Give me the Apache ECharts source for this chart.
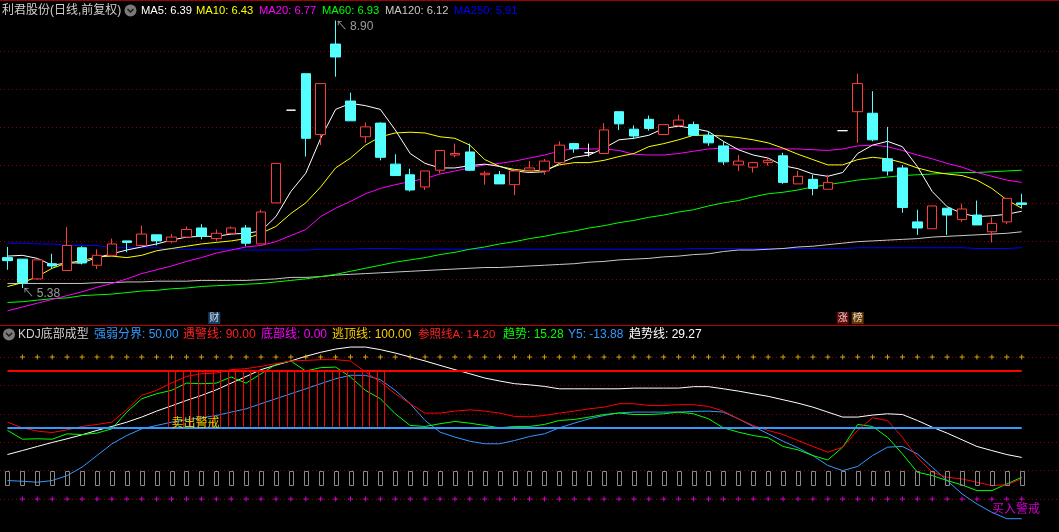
<!DOCTYPE html>
<html><head><meta charset="utf-8">
<script src="https://cdn.jsdelivr.net/npm/echarts@6/dist/echarts.min.js"></script>
<style>html,body{margin:0;padding:0;background:#000;}#c{width:1059px;height:532px;}</style>
</head><body><div id="c"></div>
<script>
// ---------- data ----------
const days = Array.from({length: 69}, (_, i) => 'D' + (i + 1));
const open  = [5.78,5.76,5.50,5.70,5.61,5.91,5.68,5.81,6.00,5.94, 6.08,5.99,6.05,6.17,6.03,6.10,6.17,5.96,6.50,7.72, 8.20,7.40,8.59,7.84,7.37,7.55,7.01,6.87,6.71,6.93, 7.13,7.17,6.87,6.87,6.74,6.93,6.92,7.03,7.28,7.16, 7.15,7.70,7.47,7.60,7.40,7.52,7.53,7.39,7.25,7.00, 6.97,7.03,7.12,6.75,6.81,6.68,7.45,7.70,7.68,7.08, 6.96,6.25,6.16,6.43,6.28,6.34,6.12,6.25,6.50];
const close = [5.74,5.45,5.75,5.67,5.94,5.71,5.81,5.96,5.98,6.09, 6.00,6.05,6.15,6.06,6.10,6.17,5.97,6.38,7.02,7.72, 7.35,8.07,8.42,7.58,7.50,7.10,6.86,6.67,6.92,7.19, 7.15,6.93,6.89,6.75,6.92,6.96,7.05,7.26,7.21,7.16, 7.46,7.54,7.38,7.48,7.53,7.59,7.39,7.29,7.04,7.05, 7.03,7.06,6.77,6.85,6.69,6.77,7.45,8.07,7.33,6.92, 6.44,6.17,6.46,6.34,6.42,6.21,6.23,6.56,6.48];
const low   = [5.62,5.38,5.49,5.63,5.61,5.69,5.63,5.81,5.85,5.93, 5.94,5.97,6.05,6.02,6.00,6.10,5.93,5.96,6.50,7.72, 7.11,7.26,8.16,7.58,7.29,7.06,6.86,6.65,6.67,6.89, 7.10,6.92,6.74,6.75,6.60,6.92,6.87,7.03,7.16,7.11, 7.14,7.46,7.34,7.45,7.40,7.52,7.39,7.25,7.00,6.92, 6.90,6.99,6.75,6.75,6.60,6.68,7.45,7.29,7.31,6.86, 6.37,6.08,6.16,6.08,6.25,6.21,5.98,6.22,6.43];
const high  = [5.92,5.76,5.75,5.83,6.18,5.93,5.89,6.03,6.00,6.20, 6.08,6.09,6.19,6.22,6.15,6.19,6.21,6.41,7.02,7.72, 8.20,8.07,8.90,7.95,7.56,7.56,7.14,6.95,6.92,7.19, 7.28,7.28,6.92,6.92,6.92,7.05,7.08,7.31,7.29,7.28, 7.55,7.70,7.52,7.65,7.53,7.66,7.57,7.44,7.31,7.13, 7.04,7.10,7.16,6.92,6.87,6.87,7.45,8.20,7.97,7.50, 7.00,6.41,6.46,6.43,6.49,6.53,6.31,6.56,6.62];
const ma5   = [5.80,5.81,5.77,5.68,5.71,5.71,5.78,5.83,5.88,5.92, 5.96,6.01,6.05,6.06,6.06,6.09,6.10,6.13,6.32,6.65, 6.89,7.35,7.73,7.81,7.78,7.73,7.46,7.15,7.02,6.96, 6.96,6.99,7.01,6.98,6.92,6.90,6.91,7.02,7.10,7.13, 7.22,7.33,7.35,7.39,7.48,7.51,7.48,7.44,7.31,7.20, 7.13,7.09,6.99,6.95,6.88,6.85,6.90,7.15,7.26,7.31, 7.24,6.98,6.65,6.45,6.36,6.32,6.33,6.35,6.39];
const ma10  = [5.40,5.45,5.53,5.64,5.71,5.74,5.79,5.80,5.78,5.81, 5.87,5.90,5.93,5.96,5.98,6.00,6.03,6.10,6.19,6.36, 6.50,6.71,6.96,7.09,7.26,7.37,7.42,7.43,7.42,7.37, 7.35,7.26,7.07,6.98,6.94,6.92,6.93,7.00,7.03,7.03, 7.06,7.11,7.15,7.24,7.28,7.33,7.39,7.39,7.38,7.36, 7.33,7.29,7.22,7.14,7.07,7.00,7.00,7.07,7.10,7.08, 7.03,6.96,6.91,6.88,6.86,6.80,6.69,6.54,6.43];
const ma20  = [5.08,5.13,5.18,5.23,5.28,5.33,5.39,5.44,5.50,5.57, 5.62,5.67,5.73,5.78,5.84,5.88,5.92,5.94,5.99,6.07, 6.15,6.32,6.43,6.52,6.62,6.69,6.74,6.78,6.82,6.88, 6.92,6.96,7.00,7.02,7.05,7.09,7.13,7.18,7.22,7.21, 7.21,7.19,7.14,7.13,7.13,7.15,7.18,7.21,7.22,7.21, 7.21,7.21,7.21,7.21,7.20,7.19,7.21,7.25,7.26,7.24, 7.19,7.13,7.08,7.02,6.97,6.90,6.85,6.80,6.77];
const ma60  = [5.19,5.20,5.22,5.24,5.25,5.28,5.29,5.30,5.32,5.34, 5.35,5.37,5.38,5.40,5.41,5.42,5.43,5.44,5.46,5.48, 5.50,5.53,5.56,5.60,5.64,5.68,5.72,5.75,5.78,5.82, 5.85,5.89,5.92,5.96,5.99,6.03,6.06,6.10,6.13,6.17, 6.20,6.24,6.27,6.31,6.34,6.38,6.41,6.46,6.50,6.53, 6.58,6.62,6.64,6.67,6.71,6.74,6.77,6.80,6.82,6.84, 6.86,6.87,6.88,6.89,6.90,6.90,6.91,6.92,6.93];
const ma120 = [5.44,5.44,5.44,5.44,5.44,5.44,5.45,5.45,5.46,5.46, 5.47,5.47,5.47,5.48,5.48,5.48,5.48,5.49,5.50,5.52, 5.52,5.53,5.55,5.56,5.57,5.58,5.59,5.60,5.61,5.62, 5.63,5.64,5.65,5.65,5.66,5.67,5.68,5.69,5.70,5.72, 5.73,5.75,5.76,5.77,5.79,5.80,5.82,5.83,5.86,5.88, 5.88,5.89,5.90,5.92,5.93,5.95,5.97,5.99,6.00,6.01, 6.02,6.03,6.05,6.06,6.07,6.08,6.09,6.10,6.12];
const ma250 = [5.97,5.97,5.96,5.96,5.94,5.94,5.94,5.91,5.91,5.91, 5.91,5.89,5.89,5.89,5.89,5.89,5.88,5.88,5.88,5.88, 5.88,5.89,5.89,5.89,5.90,5.90,5.90,5.89,5.89,5.89, 5.89,5.89,5.89,5.89,5.89,5.89,5.89,5.89,5.89,5.89, 5.89,5.89,5.89,5.89,5.89,5.89,5.90,5.90,5.90,5.90, 5.90,5.90,5.90,5.90,5.90,5.90,5.90,5.91,5.91,5.91, 5.91,5.91,5.91,5.91,5.91,5.90,5.90,5.90,5.91];
// KDJ底部成型 panel
const trendLine = [31.3,34.1,37.0,39.8,42.4,45.2,48.3,51.1,54.1,57.7, 61.9,65.6,69.4,72.9,76.9,81.6,86.3,91.1,94.3,97.2, 100.5,103.3,105.6,107.0,107.0,105.2,102.8,100.0,97.2,94.1, 91.1,88.2,85.2,83.1,81.2,80.4,79.3,77.6,77.6,77.6, 77.6,77.6,78.1,78.1,78.1,78.1,79.1,79.1,77.6,76.0, 74.1,72.3,69.9,67.5,64.7,61.2,57.7,57.7,59.1,60.0, 59.5,55.3,50.6,46.4,41.7,37.0,34.1,31.3,29.27];
const refLineA  = [54.1,50.1,47.8,46.8,48.7,51.1,52.5,54.1,62.9,73.0, 76.5,81.7,86.3,88.2,88.7,91.1,91.8,93.4,95.3,97.2, 97.6,98.1,98.1,97.2,89.4,82.4,74.1,67.1,60.5,60.5, 61.9,62.8,61.9,60.5,58.1,57.9,58.8,60.5,61.9,63.5, 64.7,67.1,67.1,65.9,65.9,66.4,66.4,65.2,61.9,56.5, 51.8,48.3,45.4,41.2,37.0,33.0,36.5,48.3,57.2,55.3, 43.5,29.4,18.9,15.3,14.1,11.8,9.4,10.1,14.2];
const trend     = [48.3,42.1,42.4,42.1,45.9,45.4,46.4,49.4,61.2,70.6, 74.1,76.5,81.6,81.2,81.6,85.9,81.6,88.2,94.8,97.2, 90.1,92.5,92.9,85.9,76.5,70.6,60.0,51.8,51.1,53.0, 54.6,53.4,51.8,50.1,51.1,51.1,52.5,55.3,56.0,57.7, 59.5,60.5,59.5,59.5,60.0,61.2,60.0,56.5,50.1,47.1, 44.7,43.1,37.0,34.6,30.6,27.5,36.5,52.5,51.1,43.5, 31.8,18.9,16.5,13.0,9.9,5.9,5.9,10.6,15.28];
const y5        = [13.0,12.5,11.8,13.0,16.5,22.4,30.6,38.8,44.7,49.4, 51.8,54.1,55.8,57.2,58.8,61.2,63.5,67.1,70.6,74.1, 77.6,81.2,84.7,87.1,87.1,84.0,76.5,67.1,55.3,47.1, 43.6,40.7,38.9,38.9,41.2,44.0,45.9,50.1,53.4,56.5, 58.8,60.7,61.2,61.2,61.2,61.2,61.7,61.9,61.2,56.5, 51.1,45.9,40.7,36.0,30.6,23.6,20.0,22.9,30.6,36.5, 37.0,31.8,22.4,13.0,3.6,-3.5,-9.4,-13.88,-13.88];
const sellWarn  = [0,0,0,0,0,0,0,0,0,0, 0,1,1,1,1,1,1,1,1,1, 1,1,1,1,1,1,0,0,0,0, 0,0,0,0,0,0,0,0,0,0, 0,0,0,0,0,0,0,0,0,0, 0,0,0,0,0,0,0,0,0,0, 0,0,0,0,0,0,0,0,0];
const strongWeak = 50, alertLine = 90, bottomLine = 0, escapeLine = 100;
const boxLow = 10, boxHigh = 20;
const hiLabel = {idx: 22, value: 8.90}, loLabel = {idx: 1, value: 5.38};
const sellText = {idx: 11, value: 53.3}, buyText = {idx: 66, value: -7.8};
const tags = [{idx: 14, text: '财', bg: '#1d4f80', dx: -2}, {idx: 56, text: '涨', bg: '#7d0a0a', dx: 0}, {idx: 57, text: '榜', bg: '#7d4300', dx: 0}];

// ---------- build ----------
const FONT = '"Liberation Sans","Noto Sans CJK SC",sans-serif';
const N = days.length;
const slots = days.concat(['', ' ']);
const candleData = days.map((d, i) => {
  const item = {value: [open[i], close[i], low[i], high[i]]};
  if (open[i] === close[i]) item.itemStyle = {color: '#ffffff', borderColor: '#ffffff', color0: '#ffffff', borderColor0: '#ffffff'};
  return item;
});
function ln(name, data, color, xi, extra) {
  return Object.assign({name, type: 'line', xAxisIndex: xi, yAxisIndex: xi, data, symbol: 'none', silent: true,
    lineStyle: {width: 1, color}, itemStyle: {color}, z: 3}, extra || {});
}
function boxSeries(data, color, widthPx) {
  return {type: 'custom', xAxisIndex: 1, yAxisIndex: 1, silent: true, z: 4,
    encode: {x: 0, y: [1, 2]}, data,
    renderItem: function (params, api) {
      const i = api.value(0);
      const t = api.coord([i, api.value(2)]);
      const b = api.coord([i, api.value(1)]);
      const x0 = Math.round(t[0] - widthPx / 2) + 0.5;
      return {type: 'rect', shape: {x: x0, y: Math.round(t[1]) + 0.5, width: widthPx, height: Math.round(b[1] - t[1])},
        style: {fill: 'none', stroke: color, lineWidth: 1}};
    }};
}
const grayBoxes = days.map((d, i) => [i, boxLow, boxHigh]);
const redBoxes = [];
sellWarn.forEach((f, i) => { if (f) redBoxes.push([i, strongWeak, alertLine]); });
const plus = 'path://M2,0H3V2H5V3H3V5H2V3H0V2H2Z';

function txt(x, y, s, color, size) {
  return {type: 'text', x, y, silent: true, z: 10,
    style: {text: s, fill: color, font: (size || 12) + 'px ' + FONT, verticalAlign: 'middle'}};
}
function icon(cx, cy) {
  return {type: 'group', silent: true, z: 10, children: [
    {type: 'circle', shape: {cx, cy, r: 6}, style: {fill: '#7a7a7a'}},
    {type: 'polyline', shape: {points: [[cx - 3, cy - 1.5], [cx, cy + 1.5], [cx + 3, cy - 1.5]]}, style: {stroke: '#1a1a1a', lineWidth: 1.5, fill: null}}
  ]};
}
const gridLine = {show: true, showMinLine: false, showMaxLine: false, lineStyle: {color: '#8f0000', type: [1, 3], width: 1}};
const HS = 11.2;

const option = {
  backgroundColor: '#000000',
  animation: false,
  grid: [
    {left: -1.2, top: 12.9, width: 1065, height: 304},
    {left: -1.2, top: 328.6, width: 1065, height: 198.8}
  ],
  xAxis: [
    {type: 'category', gridIndex: 0, data: slots, show: false},
    {type: 'category', gridIndex: 1, data: slots, show: false}
  ],
  yAxis: [
    {type: 'value', gridIndex: 0, min: 5, max: 9, interval: 0.5, axisLabel: {show: false}, axisLine: {show: false}, axisTick: {show: false}, splitLine: gridLine},
    {type: 'value', gridIndex: 1, min: -20, max: 120, interval: 20, axisLabel: {show: false}, axisLine: {show: false}, axisTick: {show: false}, splitLine: gridLine}
  ],
  series: [
    ln('MA250', ma250, '#0000ff', 0),
    ln('MA120', ma120, '#c8c8c8', 0),
    ln('MA60', ma60, '#00ff00', 0),
    ln('MA20', ma20, '#ff00ff', 0),
    ln('MA10', ma10, '#ffff00', 0),
    ln('MA5', ma5, '#ffffff', 0),
    {type: 'candlestick', xAxisIndex: 0, yAxisIndex: 0, data: candleData, barWidth: 10, silent: true, z: 5,
      itemStyle: {color: '#000000', color0: '#54ffff', borderColor: '#ff3c3c', borderColor0: '#54ffff', borderWidth: 1}},
    {type: 'scatter', xAxisIndex: 0, yAxisIndex: 0, symbolSize: 0, silent: true, clip: false, z: 6,
      data: [
        {value: [hiLabel.idx, hiLabel.value], label: {formatter: '↖\u2009' + hiLabel.value.toFixed(2)}},
        {value: [loLabel.idx, loLabel.value], label: {formatter: '↖\u2009' + loLabel.value.toFixed(2)}}
      ],
      label: {show: true, position: [0, 0], align: 'left', verticalAlign: 'top', color: '#c0c0c0', fontSize: 12, fontFamily: FONT}},
    {type: 'scatter', xAxisIndex: 0, yAxisIndex: 0, symbolSize: 0, silent: true, clip: false, z: 6,
      data: tags.map(t => ({value: [t.idx, 4.985], label: {formatter: t.text, backgroundColor: t.bg, offset: [t.dx, 0]}})),
      label: {show: true, position: 'inside', color: '#ffffff', fontSize: 10, lineHeight: 11, padding: [1, 1, 0, 1], fontFamily: FONT}},
    // bottom panel
    boxSeries(grayBoxes, '#8a8a8a', 4),
    ln('趋势线', trendLine, '#ffffff', 1, {
      markLine: {silent: true, symbol: 'none', label: {show: false}, animation: false,
        data: [
          [{coord: [days[0], alertLine], lineStyle: {color: '#ff0000', width: 2, type: 'solid'}}, {coord: [days[N - 1], alertLine]}],
          [{coord: [days[0], strongWeak], lineStyle: {color: '#3399ff', width: 2, type: 'solid'}}, {coord: [days[N - 1], strongWeak]}]
        ]}}),
    ln('Y5', y5, '#3399ff', 1),
    ln('趋势', trend, '#00ff00', 1),
    ln('参照线A', refLineA, '#ff0000', 1),
    boxSeries(redBoxes, '#ff0000', 7),
    {type: 'scatter', xAxisIndex: 1, yAxisIndex: 1, symbol: plus, symbolSize: 5, silent: true, z: 5,
      itemStyle: {color: '#ffcc00'}, data: days.map((d, i) => i === 0 ? null : [i, escapeLine]).filter(Boolean)},
    {type: 'scatter', xAxisIndex: 1, yAxisIndex: 1, symbol: plus, symbolSize: 5, silent: true, z: 5,
      itemStyle: {color: '#ff00ff'}, data: days.map((d, i) => i === 0 ? null : [i, bottomLine]).filter(Boolean)},
    {type: 'scatter', xAxisIndex: 1, yAxisIndex: 1, symbolSize: 0, silent: true, clip: false, z: 7,
      data: [
        {value: [sellText.idx, sellText.value], label: {formatter: '卖出警戒', color: '#ffff00'}},
        {value: [buyText.idx, buyText.value], label: {formatter: '买入警戒', color: '#ff00ff'}}
      ],
      label: {show: true, position: 'right', distance: 0, fontSize: 12, fontFamily: FONT}}
  ],
  graphic: [
    {type: 'rect', shape: {x: 0, y: 0, width: 1059, height: 1}, style: {fill: '#a00000'}, silent: true},
    {type: 'rect', shape: {x: 0, y: 325, width: 1059, height: 1}, style: {fill: '#c00000'}, silent: true},
    txt(2, 10.5, '利君股份(日线,前复权)', '#d0d0d0'),
    icon(130.5, 10.5),
    txt(141, 10.5, 'MA5: ' + ma5[N - 1].toFixed(2), '#ffffff', HS),
    txt(196, 10.5, 'MA10: ' + ma10[N - 1].toFixed(2), '#ffff00', HS),
    txt(259, 10.5, 'MA20: ' + ma20[N - 1].toFixed(2), '#ff00ff', HS),
    txt(322, 10.5, 'MA60: ' + ma60[N - 1].toFixed(2), '#00ff00', HS),
    txt(385, 10.5, 'MA120: ' + ma120[N - 1].toFixed(2), '#c8c8c8', HS),
    txt(454, 10.5, 'MA250: ' + ma250[N - 1].toFixed(2), '#0000ff', HS),
    icon(9, 334.5),
    txt(18, 334.5, 'KDJ底部成型', '#d0d0d0'),
    txt(94, 334.5, '强弱分界: ' + strongWeak.toFixed(2), '#3399ff'),
    txt(183, 334.5, '遇警线: ' + alertLine.toFixed(2), '#ff2020'),
    txt(261, 334.5, '底部线: ' + bottomLine.toFixed(2), '#ff00ff'),
    txt(332, 334.5, '逃顶线: ' + escapeLine.toFixed(2), '#ffcc00'),
    txt(418, 334.5, '参照线A: ' + refLineA[N - 1].toFixed(2), '#ff2020', 11.5),
    txt(503, 334.5, '趋势: ' + trend[N - 1].toFixed(2), '#00ff00'),
    txt(568, 334.5, 'Y5: ' + y5[N - 1].toFixed(2), '#3399ff'),
    txt(629, 334.5, '趋势线: ' + trendLine[N - 1].toFixed(2), '#ffffff')
  ]
};
const chart = echarts.init(document.getElementById('c'), null, {renderer: 'canvas'});
chart.setOption(option);
</script>
</body></html>
